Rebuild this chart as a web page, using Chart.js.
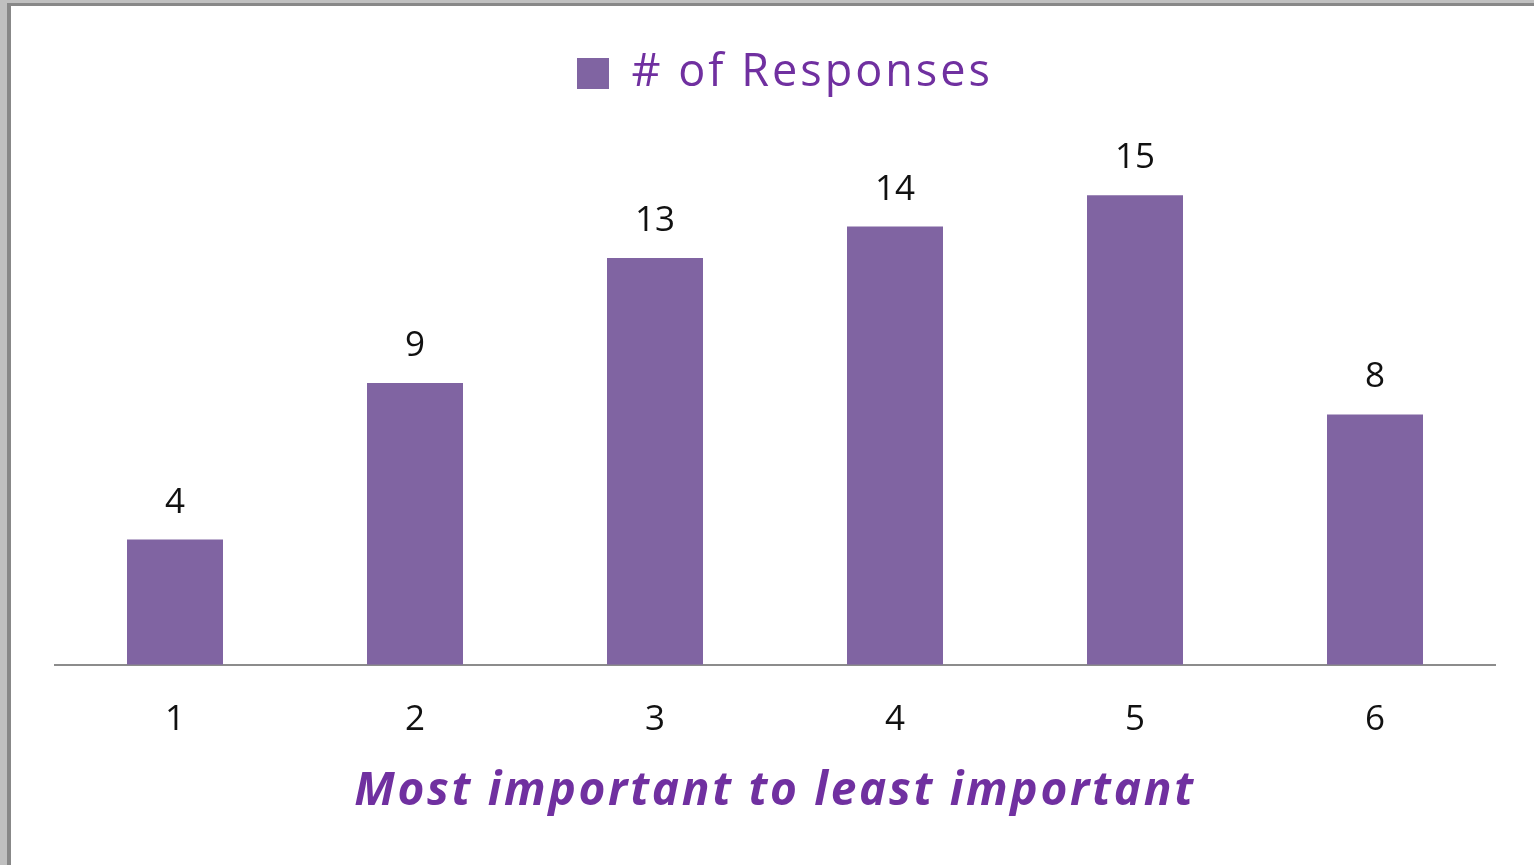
<!DOCTYPE html>
<html>
<head>
<meta charset="utf-8">
<script src="https://cdn.jsdelivr.net/npm/chart.js@4/dist/chart.umd.min.js"></script>
<style>
    html, body { margin: 0; padding: 0; background: #c0c0c0; overflow: hidden; }
    #frame { position: absolute; left: 7px; top: 3px; right: 0; bottom: 0;
             border-left: 4px solid #888; border-top: 3px solid #888; background: #fff; }
    #responseChart { position: absolute; left: 0; top: 0; }
</style>
</head>
<body>
<div id="frame"></div>
<canvas id="responseChart" width="1534" height="865"></canvas>
<script>
// Chart data
var categories = ['1', '2', '3', '4', '5', '6'];
var responses = [4, 9, 13, 14, 15, 8];
var seriesName = '# of Responses';
var axisTitle = 'Most important to least important';

// run a method with letter spacing set on the canvas
function spaced(obj, method, spacing, dx) {
    var orig = obj[method];
    obj[method] = function () {
        var c = this.ctx;
        c.save();
        c.letterSpacing = spacing;
        if (dx) c.translate(dx, 0);
        var r = orig.apply(this, arguments);
        c.restore();
        return r;
    };
}

// wider text for legend and axis title, plus a gap under the legend
var textTweaks = {
    id: 'textTweaks',
    afterInit: function (chart) {
        var legend = chart.legend;
        var fit = legend.fit;
        legend.fit = function () {
            var c = this.ctx;
            c.save();
            c.letterSpacing = '3px';
            fit.apply(this, arguments);
            c.restore();
            this.height += 58;
        };
        spaced(legend, 'draw', '3px', 10);
    },
    beforeDraw: function (chart) {
        var x = chart.scales.x;
        if (!x._spaced) {
            spaced(x, 'drawTitle', '2.7px');
            x._spaced = true;
        }
    }
};

// draws the value above each bar
var valueLabels = {
    id: 'valueLabels',
    afterDatasetsDraw: function (chart) {
        var ctx = chart.ctx;
        ctx.save();
        ctx.font = '35px "Open Sans"';
        ctx.fillStyle = '#111';
        ctx.textAlign = 'center';
        ctx.textBaseline = 'alphabetic';
        chart.getDatasetMeta(0).data.forEach(function (bar, i) {
            ctx.fillText(responses[i], bar.x, bar.y - 27);
        });
        ctx.restore();
    }
};

var ctx = document.getElementById('responseChart').getContext('2d');
var chart = new Chart(ctx, {
    type: 'bar',
    data: {
        labels: categories,
        datasets: [{
            label: seriesName,
            data: responses,
            backgroundColor: '#8064A2',
            barPercentage: 0.4,
            categoryPercentage: 1.0
        }]
    },
    options: {
        responsive: false,
        animation: false,
        layout: { padding: { left: 55, right: 39, top: 31, bottom: 46 } },
        plugins: {
            legend: {
                position: 'top',
                labels: {
                    boxWidth: 32,
                    boxHeight: 31,
                    padding: 20,
                    color: '#7030A0',
                    font: { family: 'Open Sans', size: 45 }
                }
            },
            tooltip: { enabled: false }
        },
        scales: {
            x: {
                grid: { display: false },
                border: { display: true, color: '#8c8c8c', width: 2 },
                ticks: {
                    color: '#111',
                    padding: 26,
                    font: { family: 'Open Sans', size: 35 }
                },
                title: {
                    display: true,
                    text: axisTitle,
                    color: '#7030A0',
                    padding: { top: -3, bottom: 0 },
                    font: { family: 'Open Sans', size: 46, weight: 'bold', style: 'italic' }
                }
            },
            y: {
                display: false,
                min: 0,
                max: 16
            }
        }
    },
    plugins: [textTweaks, valueLabels]
});
</script>
</body>
</html>
